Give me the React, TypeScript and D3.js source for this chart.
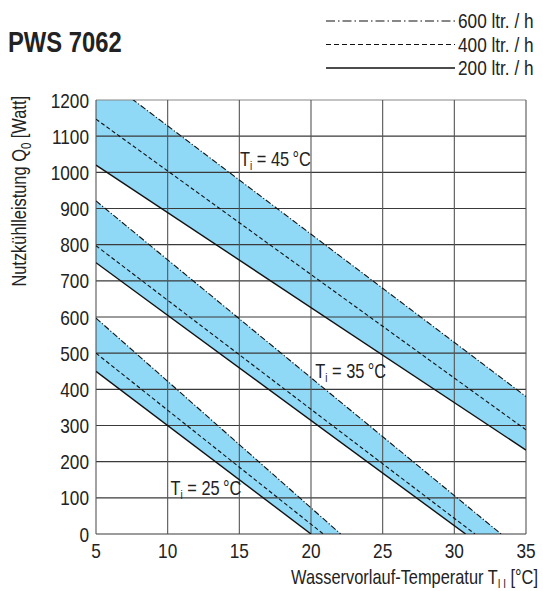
import * as d3 from 'd3'
import React, { useEffect, useRef } from 'react'

// axis ticks
const xTicks = [5, 10, 15, 20, 25, 30, 35]
const yTicks = [0, 100, 200, 300, 400, 500, 600, 700, 800, 900, 1000, 1100, 1200]

// straight lines: [Vorlauf °C, Watt]
const ti25_200 = [[5, 450], [20, 0]]
const ti25_400 = [[5, 500], [20.86, 0]]
const ti25_600 = [[5, 597], [22.07, 0]]

const ti35_200 = [[5, 750], [30.79, 0]]
const ti35_400 = [[5, 797], [31.44, 0]]
const ti35_600 = [[5, 921], [33.26, 0]]

const ti45_200 = [[5, 1020], [35, 232]]
const ti45_400 = [[5, 1147], [35, 288]]
const ti45_600 = [[5, 1278], [35, 380]]

const tiLabels = ['25', '35', '45']
// where the Ti labels sit [°C, Watt]
const tiLabelPos = [[10.2, 108], [20.3, 431], [15.05, 1017]]

const flowLabels = ['600 ltr. / h', '400 ltr. / h', '200 ltr. / h']

const W = 543
const H = 591
const plot = { left: 96, right: 526, top: 100, bottom: 534 }
const font = '"Liberation Sans", Arial, sans-serif'
const blue = '#8fd8f6'
const dashed = '4,2.5'
const dashDot = '6,2,1.2,2'
const squeeze = 0.82

type Sel = d3.Selection<any, unknown, null, undefined>

// condensed-looking text: squeeze horizontally around the anchor point
const addText = (parent: Sel, x: number, y: number, size: number, anchor = 'start', rotate = 0) =>
  parent
    .append('g')
    .attr('transform', `translate(${x},${y}) rotate(${rotate}) scale(${squeeze},1)`)
    .append('text')
    .attr('text-anchor', anchor)
    .attr('font-family', font)
    .attr('font-size', size)
    .attr('fill', '#222')

const App = () => {
  const ref = useRef<SVGSVGElement>(null)

  useEffect(() => {
    if (!ref.current) return
    const svg = d3.select(ref.current)
    svg.selectAll('*').remove()

    const x = d3.scaleLinear().domain([5, 35]).range([plot.left, plot.right])
    const y = d3.scaleLinear().domain([0, 1200]).range([plot.bottom, plot.top])
    const line = d3
      .line<number[]>()
      .x((d) => x(d[0]))
      .y((d) => y(d[1]))

    svg.append('rect').attr('width', W).attr('height', H).attr('fill', '#fff')

    svg
      .append('defs')
      .append('clipPath')
      .attr('id', 'plotclip')
      .append('rect')
      .attr('x', plot.left)
      .attr('y', plot.top)
      .attr('width', plot.right - plot.left)
      .attr('height', plot.bottom - plot.top)

    const groups = [
      [ti25_200, ti25_400, ti25_600],
      [ti35_200, ti35_400, ti35_600],
      [ti45_200, ti45_400, ti45_600],
    ]

    // blue bands between 200 and 600 ltr/h
    const bands = svg.append('g').attr('clip-path', 'url(#plotclip)')
    groups.forEach(([lo, , hi]) => {
      bands
        .append('path')
        .attr('d', line([...lo, ...hi.slice().reverse()]) + 'Z')
        .attr('fill', blue)
    })

    // grid
    const grid = svg.append('g').attr('stroke-width', 1.1)
    grid
      .selectAll('line.h')
      .data(yTicks)
      .join('line')
      .attr('x1', plot.left)
      .attr('x2', plot.right)
      .attr('y1', (d) => y(d))
      .attr('y2', (d) => y(d))
      .attr('stroke', (d) => (d === 1200 ? '#888' : '#3a3a3a'))
    grid
      .selectAll('line.v')
      .data(xTicks)
      .enter()
      .append('line')
      .attr('x1', (d) => x(d))
      .attr('x2', (d) => x(d))
      .attr('y1', plot.top)
      .attr('y2', plot.bottom)
      .attr('stroke', '#555')

    // curves
    const curves = svg.append('g').attr('clip-path', 'url(#plotclip)').attr('fill', 'none').attr('stroke', '#111')
    groups.forEach(([lo, mid, hi]) => {
      curves.append('path').attr('d', line(lo)).attr('stroke-width', 1.4)
      curves.append('path').attr('d', line(mid)).attr('stroke-width', 1.1).attr('stroke-dasharray', dashed)
      curves.append('path').attr('d', line(hi)).attr('stroke-width', 1.1).attr('stroke-dasharray', dashDot)
    })

    // tick labels
    yTicks.forEach((t) => addText(svg, 89, y(t) + 7.5, 21, 'end').text(t))
    xTicks.forEach((t) => addText(svg, x(t), 558, 21, 'middle').text(t))

    // axis titles
    const xt = addText(svg, 538, 584, 20, 'end')
    xt.append('tspan').text('Wasservorlauf-Temperatur T')
    xt.append('tspan').attr('dy', 4).attr('font-size', 12).text('I I')
    xt.append('tspan').attr('dy', -4).text(' [°C]')

    const yt = addText(svg, 26, plot.top - 4, 20, 'end', -90)
    yt.append('tspan').text('Nutzkühlleistung Q')
    yt.append('tspan').attr('dy', 5).attr('font-size', 14).text('0')
    yt.append('tspan').attr('dy', -5).text(' [Watt]')

    // Ti labels
    tiLabels.forEach((t, i) => {
      const p = tiLabelPos[i]
      const tx = addText(svg, x(p[0]), y(p[1]), 20)
      tx.append('tspan').text('T')
      tx.append('tspan').attr('dy', 4).attr('font-size', 12).text('i')
      tx.append('tspan').attr('dy', -4).text(` = ${t}\u2009°C`)
    })

    // title
    addText(svg, 8, 52, 29).attr('font-weight', 'bold').text('PWS 7062')

    // legend
    flowLabels.forEach((lab, i) => {
      const ly = 21 + i * 23.5
      svg
        .append('line')
        .attr('x1', 326)
        .attr('x2', 455)
        .attr('y1', ly)
        .attr('y2', ly)
        .attr('stroke', '#111')
        .attr('stroke-width', i === 2 ? 1.5 : 1.2)
        .attr('stroke-dasharray', i === 0 ? '9,3,1.5,3' : i === 1 ? '5,3' : null)
      addText(svg, 458, ly + 7, 21).text(lab)
    })
  }, [])

  return <svg ref={ref} width={W} height={H} style={{ position: 'absolute', left: 0, top: 0 }} />
}

export default App
